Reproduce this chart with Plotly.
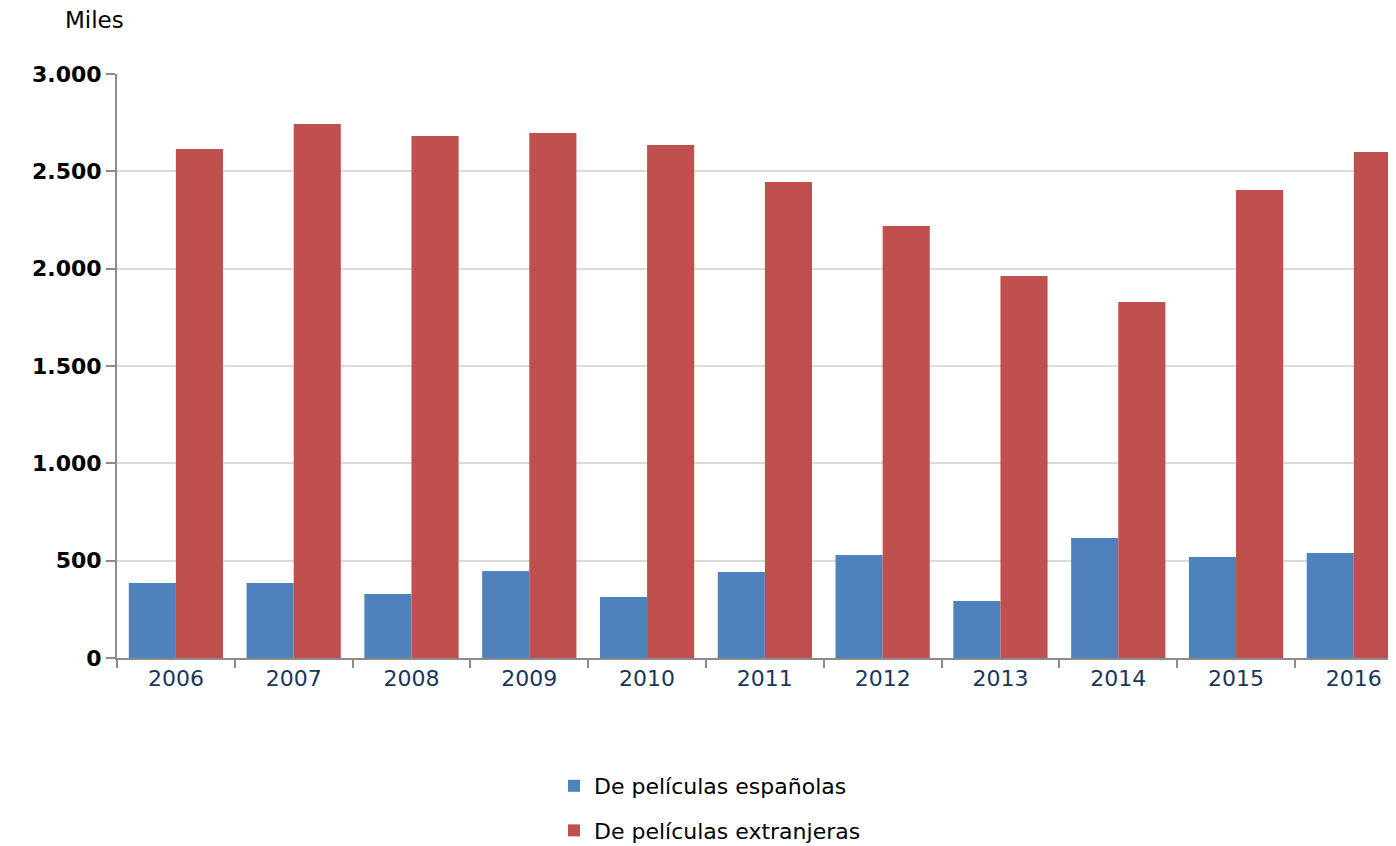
import plotly.graph_objects as go

years = ["2006", "2007", "2008", "2009", "2010", "2011", "2012", "2013", "2014", "2015", "2016"]
espanolas = [385, 385, 329, 447, 313, 442, 529, 293, 616, 519, 539]
extranjeras = [2615, 2743, 2681, 2697, 2635, 2445, 2219, 1962, 1829, 2404, 2599]
y_ticks = [0, 500, 1000, 1500, 2000, 2500, 3000]

W, H = 1380, 838
L, T, B, R = 109, 66, 188, 0
PW = W - L - R
PH = H - T - B

fig = go.Figure()
fig.add_trace(go.Bar(x=years, y=espanolas, name="De películas españolas",
                     marker=dict(color="#4F81BD", line=dict(width=0)), legendgroup="a"))
fig.add_trace(go.Bar(x=years, y=extranjeras, name="De películas extranjeras",
                     marker=dict(color="#C0504D", line=dict(width=0)), legendgroup="b"))

fig.update_layout(
    width=W, height=H,
    margin=dict(l=L, r=R, t=T, b=B),
    plot_bgcolor="white", paper_bgcolor="white",
    barmode="group", bargap=0.2, bargroupgap=0,
    separators=",.",
    font=dict(family="DejaVu Sans, sans-serif", color="black"),
    showlegend=True,
    legend=dict(x=(546 - L) / PW, xanchor="left",
                y=1 - 757 / H, yanchor="top", yref="container",
                font=dict(size=22, color="black"), tracegroupgap=13,
                traceorder="grouped"),
)
fig.add_annotation(text="Miles", xref="paper", yref="paper",
                   x=(55 - L) / PW, y=1 + (T - 12) / PH, xanchor="left", yanchor="middle",
                   showarrow=False, font=dict(size=23, color="black"))

fig.update_xaxes(
    type="category", range=[-0.5, 10.29],
    showline=True, linecolor="#8c8c8c", linewidth=2,
    ticks="outside", tickson="boundaries", ticklen=8, tickcolor="#8c8c8c", tickwidth=2,
    tickfont=dict(size=22, color="#17375E"), showgrid=False,
)
fig.update_yaxes(
    range=[0, 3000], tickvals=y_ticks, tickformat=",d", separatethousands=True,
    showline=True, linecolor="#8c8c8c", linewidth=2,
    ticks="outside", ticklen=9, tickcolor="#8c8c8c", tickwidth=2,
    tickfont=dict(size=22, color="black", weight="bold"),
    showgrid=True, gridcolor="#dcdcdc", gridwidth=2, zeroline=False,
)

fig.write_html("out.html")
